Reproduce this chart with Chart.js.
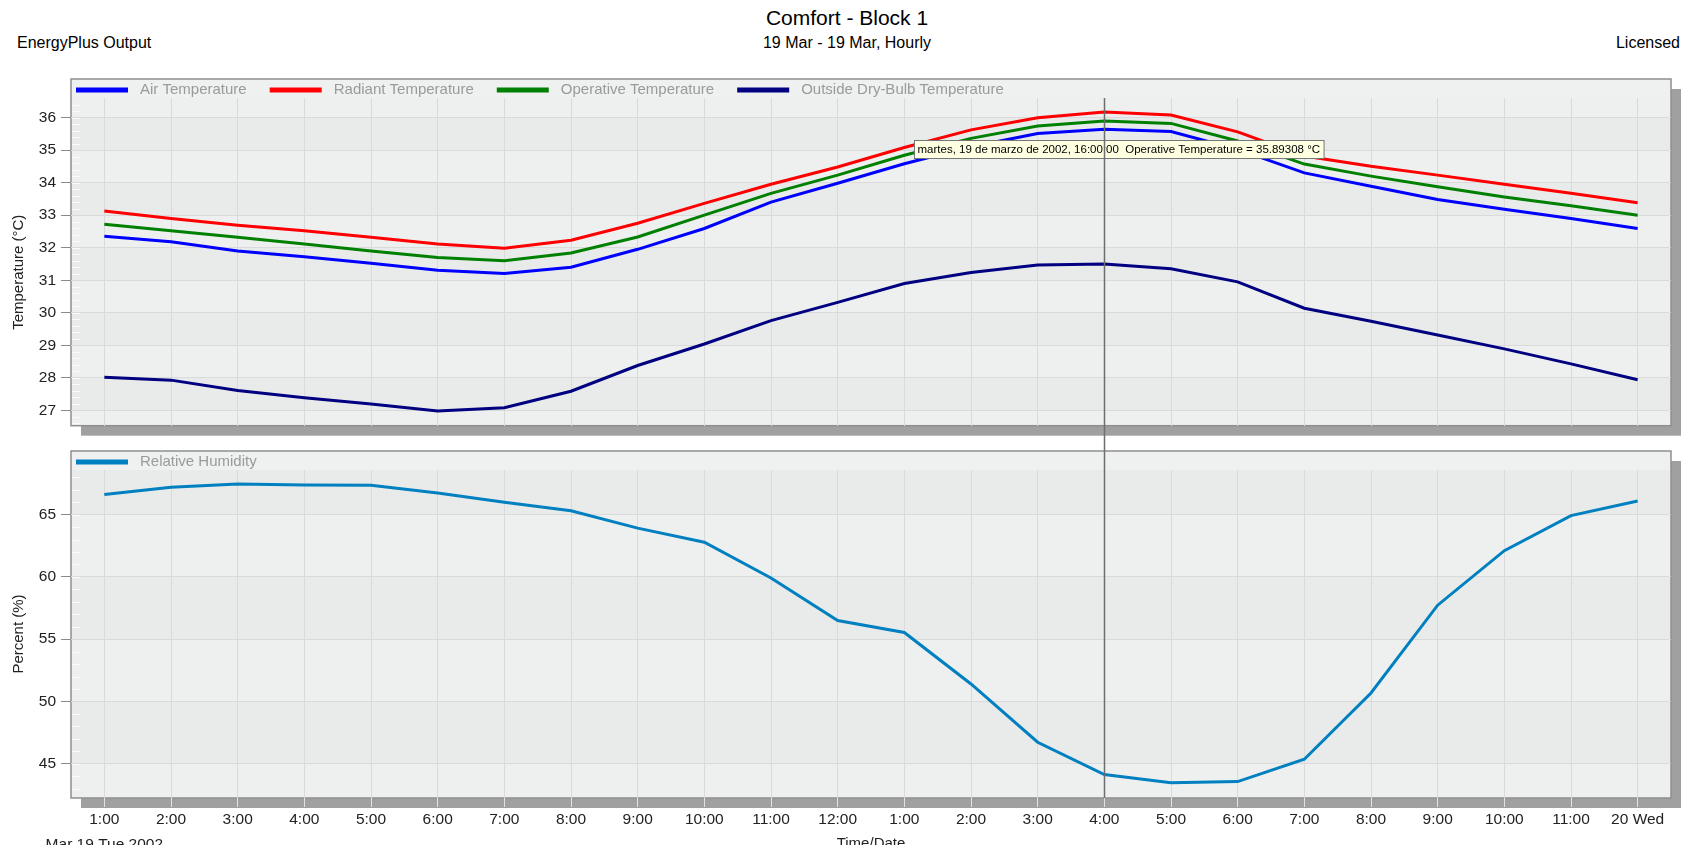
<!DOCTYPE html>
<html>
<head>
<meta charset="utf-8">
<title>Comfort - Block 1</title>
<script src="https://cdn.jsdelivr.net/npm/chart.js@4.4.0/dist/chart.umd.min.js"></script>
<style>
    html, body { margin: 0; padding: 0; background: #fff; }
    body {
        width: 1686px; height: 845px; overflow: hidden; position: relative;
        font-family: 'Liberation Sans', Arial, sans-serif; color: #000;
    }
    .hdr { position: absolute; white-space: nowrap; line-height: 1; }
    #title { left: 4px; width: 1686px; text-align: center; top: 7px; font-size: 21px; }
    #subtitle { left: 4px; width: 1686px; text-align: center; top: 35px; font-size: 16px; }
    #source { left: 17px; top: 35px; font-size: 16px; }
    #licence { right: 6px; top: 35px; font-size: 16px; }
    .box { position: absolute; left: 0; }
    #tempBox { top: 60px; }
    #rhBox { top: 440px; }
</style>
</head>
<body>
<div class="hdr" id="title">Comfort - Block 1</div>
<div class="hdr" id="subtitle">19 Mar - 19 Mar, Hourly</div>
<div class="hdr" id="source">EnergyPlus Output</div>
<div class="hdr" id="licence">Licensed</div>

<div class="box" id="tempBox"><canvas id="tempChart" width="1686" height="380"></canvas></div>
<div class="box" id="rhBox"><canvas id="rhChart" width="1686" height="420"></canvas></div>

<script>
// --- Veriler (grafikten okunan saatlik değerler) ---
const dateLabel = 'Mar 19 Tue 2002';
const hourLabels = [
    '1:00', '2:00', '3:00', '4:00', '5:00', '6:00', '7:00', '8:00', '9:00', '10:00', '11:00', '12:00',
    '1:00', '2:00', '3:00', '4:00', '5:00', '6:00', '7:00', '8:00', '9:00', '10:00', '11:00', '20 Wed'
];

const airTemp = [32.35, 32.18, 31.90, 31.72, 31.52, 31.31, 31.21, 31.40, 31.95, 32.59, 33.40, 33.98,
                 34.58, 35.10, 35.51, 35.64, 35.57, 35.02, 34.30, 33.89, 33.48, 33.18, 32.90, 32.59];
const radiantTemp = [33.13, 32.90, 32.69, 32.52, 32.32, 32.11, 31.98, 32.23, 32.75, 33.36, 33.95, 34.48,
                     35.08, 35.62, 35.99, 36.17, 36.08, 35.56, 34.82, 34.50, 34.23, 33.95, 33.67, 33.38];
const operativeTemp = [32.72, 32.52, 32.32, 32.11, 31.90, 31.70, 31.60, 31.84, 32.33, 33.00, 33.67, 34.23,
                       34.84, 35.36, 35.74, 35.89, 35.82, 35.28, 34.57, 34.20, 33.87, 33.56, 33.29, 33.00];
const outsideTemp = [28.02, 27.93, 27.61, 27.39, 27.20, 26.98, 27.08, 27.59, 28.38, 29.04, 29.76, 30.32,
                     30.90, 31.24, 31.47, 31.50, 31.35, 30.95, 30.14, 29.74, 29.32, 28.89, 28.43, 27.94];
const relHumidity = [66.62, 67.20, 67.47, 67.39, 67.37, 66.74, 66.00, 65.31, 63.92, 62.79, 59.92, 56.50,
                     55.54, 51.40, 46.72, 44.12, 43.47, 43.56, 45.35, 50.68, 57.73, 62.11, 64.93, 66.10];

// İmleç (16:00) ve ipucu metni
const cursorIndex = 15;
const tooltipDate = 'martes, 19 de marzo de 2002, 16:00:00';
const tooltipSeries = 'Operative Temperature';
const tooltipValue = '35.89308';

// --- Tema ---
const FONT = "'Liberation Sans', Arial, sans-serif";
Chart.defaults.font.family = FONT;
Chart.defaults.color = '#222';

const Colors = {
    air: '#0000ff',
    radiant: '#ff0000',
    operative: '#008000',
    outside: '#000080',
    humidity: '#0080c0',
    grid: '#dadada',
    bandDark: '#e9eaea',
    bandLight: '#eeefef',
    legendRow: '#eff0f0',
    frame: '#8f8f8f',
    shadow: '#a0a0a0',
    cursor: '#6e6e6e',
};

const AXIS_WIDTH = 71;
const LEGEND_ROW = 19;

// Panel: gölge, çerçeve, bantlar, küçük tikler ve lejant
const panelPlugin = {
    id: 'panel',
    beforeDraw(chart, args, opts) {
        const { ctx, chartArea: a, scales: { y } } = chart;
        const top = a.top - LEGEND_ROW;
        const w = a.right - a.left;
        ctx.save();
        // gölge
        ctx.fillStyle = Colors.shadow;
        ctx.fillRect(a.left + 10, top + 10, w, a.bottom - top);
        // lejant satırı
        ctx.fillStyle = Colors.legendRow;
        ctx.fillRect(a.left, top, w, a.bottom - top);
        // dönüşümlü yatay bantlar
        const bounds = [y.min, ...y.ticks.map(t => t.value), y.max];
        for (let k = 0; k < bounds.length - 1; k++) {
            const p1 = y.getPixelForValue(bounds[k]);
            const p2 = y.getPixelForValue(bounds[k + 1]);
            ctx.fillStyle = k % 2 === 1 ? Colors.bandDark : Colors.bandLight;
            ctx.fillRect(a.left, p2, w, p1 - p2);
        }
        // küçük tikler (iç taraf)
        const minor = opts.step / 5;
        ctx.strokeStyle = '#fbfbfb';
        ctx.lineWidth = 1;
        for (let v = Math.ceil(y.min / minor) * minor; v <= y.max; v += minor) {
            const py = Math.round(y.getPixelForValue(v)) + 0.5;
            ctx.beginPath();
            ctx.moveTo(a.left, py);
            ctx.lineTo(a.left + 9, py);
            ctx.stroke();
        }
        // çerçeve
        ctx.strokeStyle = Colors.frame;
        ctx.lineWidth = 1.5;
        ctx.strokeRect(a.left, top, w, a.bottom - top);
        // lejant
        const cy = top + 11;
        let x = a.left + 5;
        ctx.font = '15px ' + FONT;
        ctx.textBaseline = 'middle';
        chart.data.datasets.forEach(ds => {
            ctx.fillStyle = ds.borderColor;
            ctx.fillRect(x, cy - 2.5, 52, 5);
            x += 52 + 12;
            ctx.fillStyle = '#9a9a9a';
            ctx.fillText(ds.label, x, cy);
            x += ctx.measureText(ds.label).width + 23;
        });
        ctx.restore();
    },
    afterDatasetsDraw(chart, args, opts) {
        const { ctx, chartArea: a, scales: { x, y } } = chart;
        const cx = Math.round(x.getPixelForValue(cursorIndex)) + 0.5;
        ctx.save();
        // ipucu kutusu
        if (opts.tooltip) {
            const idx = chart.data.datasets.findIndex(d => d.label === tooltipSeries);
            const py = y.getPixelForValue(chart.data.datasets[idx].data[cursorIndex]);
            const text = tooltipDate + '  ' + tooltipSeries + ' = ' + tooltipValue + ' °C';
            ctx.font = '11.5px ' + FONT;
            const tw = ctx.measureText(text).width + 7;
            const bx = Math.round(cx - 191) + 0.5;
            const by = Math.round(py + 19) + 0.5;
            ctx.fillStyle = '#ffffe1';
            ctx.fillRect(bx, by, tw, 18);
            ctx.strokeStyle = '#767676';
            ctx.lineWidth = 1;
            ctx.strokeRect(bx, by, tw, 18);
            ctx.fillStyle = '#000';
            ctx.textBaseline = 'middle';
            ctx.fillText(text, bx + 3, by + 9.5);
        }
        // dikey imleç çizgisi
        ctx.strokeStyle = Colors.cursor;
        ctx.lineWidth = 1.5;
        ctx.beginPath();
        ctx.moveTo(cx, opts.cursorFromTop ? a.top : 0);
        ctx.lineTo(cx, opts.cursorFromTop ? chart.height : a.bottom);
        ctx.stroke();
        ctx.restore();
    }
};

function makeDataset(label, data, color) {
    return {
        label: label,
        data: data,
        borderColor: color,
        backgroundColor: color,
        borderWidth: 3,
        pointRadius: 0,
        tension: 0,
        fill: false,
    };
}

// Ortak seçenekler
function makeOptions({ yMin, yMax, yStep, yTitle, showX, padding, tooltip, cursorFromTop }) {
    return {
        responsive: false,
        animation: false,
        events: [],
        layout: { padding: padding },
        plugins: {
            legend: { display: false },
            tooltip: { enabled: false },
            panel: { step: yStep, tooltip: tooltip, cursorFromTop: cursorFromTop },
        },
        scales: {
            x: {
                type: 'category',
                offset: true,
                afterFit: s => { s.height = showX ? 62 : 0; },
                ticks: {
                    display: showX,
                    autoSkip: false,
                    maxRotation: 0,
                    color: '#222',
                    padding: 0,
                    font: { size: 15.5, lineHeight: 25 / 15.5 },
                },
                grid: { color: Colors.grid, tickColor: '#e2e2e2', tickLength: 9, drawTicks: showX, offset: false },
                border: { display: false },
                title: {
                    display: showX,
                    text: 'Time/Date',
                    color: '#222',
                    font: { size: 15 },
                    padding: { top: 0, bottom: 7 },
                },
            },
            y: {
                min: yMin,
                max: yMax,
                afterFit: s => { s.width = AXIS_WIDTH; },
                ticks: { stepSize: yStep, includeBounds: false, color: '#222', padding: 5, font: { size: 15.5 } },
                grid: { color: Colors.grid, tickColor: '#8a8a8a', tickLength: 10 },
                border: { display: false },
                title: {
                    display: true,
                    text: yTitle,
                    color: '#222',
                    font: { size: 15 },
                    padding: { top: 10, bottom: 0 },
                },
            },
        },
    };
}

// Etiketler: ilk saatin altında tarih satırı
const xLabels = hourLabels.map((h, i) => i === 0 ? [h, dateLabel] : h);

// Sıcaklık grafiği
new Chart(document.getElementById('tempChart'), {
    type: 'line',
    data: {
        labels: xLabels,
        datasets: [
            makeDataset('Air Temperature', airTemp, Colors.air),
            makeDataset('Radiant Temperature', radiantTemp, Colors.radiant),
            makeDataset('Operative Temperature', operativeTemp, Colors.operative),
            makeDataset('Outside Dry-Bulb Temperature', outsideTemp, Colors.outside),
        ]
    },
    options: makeOptions({
        yMin: 26.53, yMax: 36.6, yStep: 1,
        yTitle: 'Temperature (°C)     ',
        showX: false,
        padding: { top: 38, right: 15, bottom: 14, left: 0 },
        tooltip: true,
        cursorFromTop: true,
    }),
    plugins: [panelPlugin],
});

// Bağıl nem grafiği
new Chart(document.getElementById('rhChart'), {
    type: 'line',
    data: {
        labels: xLabels,
        datasets: [
            makeDataset('Relative Humidity', relHumidity, Colors.humidity),
        ]
    },
    options: makeOptions({
        yMin: 42.24, yMax: 68.59, yStep: 5,
        yTitle: 'Percent (%)',
        showX: true,
        padding: { top: 30, right: 15, bottom: 0, left: 0 },
        tooltip: false,
        cursorFromTop: false,
    }),
    plugins: [panelPlugin],
});
</script>
</body>
</html>
